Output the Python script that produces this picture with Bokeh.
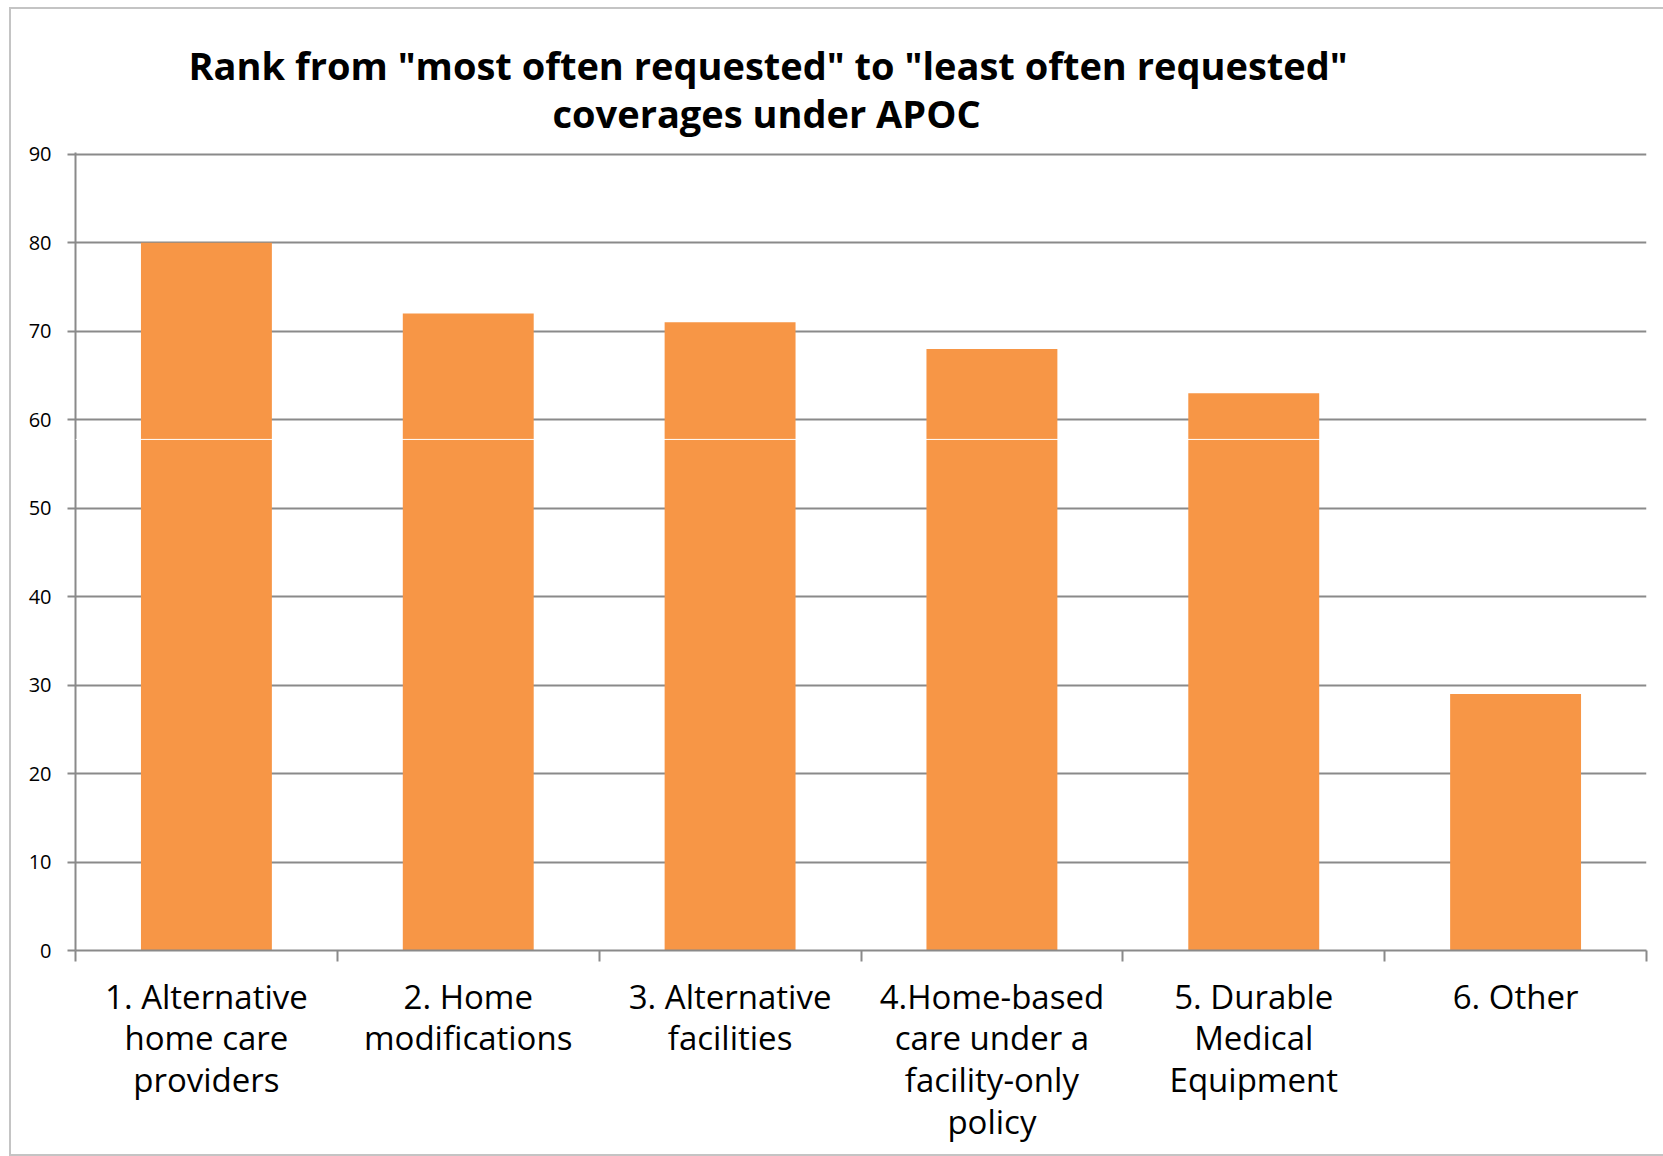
from bokeh.plotting import figure
from bokeh.models import FixedTicker, Range1d, Span, ColumnDataSource, Title
from bokeh.embed import file_html
from bokeh.resources import INLINE

categories = [
    "1. Alternative\nhome care\nproviders",
    "2. Home\nmodifications",
    "3. Alternative\nfacilities",
    "4.Home-based\ncare under a\nfacility-only\npolicy",
    "5. Durable\nMedical\nEquipment",
    "6. Other",
]
values = [80, 72, 71, 68, 63, 29]
y_ticks = [0, 10, 20, 30, 40, 50, 60, 70, 80, 90]
title_lines = [
    'Rank from "most often requested" to "least often requested"',
    "coverages under APOC",
]

n = len(categories)
xpos = [i + 0.5 for i in range(n)]
bounds = [float(i) for i in range(n + 1)]
src = ColumnDataSource(dict(x=xpos, top=values))

GRID = "#8A8A8A"
FONT = "Open Sans"
TFONT = "Open Sans"

p = figure(
    frame_width=1571, frame_height=798,
    x_range=Range1d(0, n), y_range=Range1d(y_ticks[0], y_ticks[-1] + 0.2),
    output_backend="svg", toolbar_location=None,
    min_border_left=64, min_border_right=17, min_border_top=143, min_border_bottom=204,
)
p.styles = {"position": "absolute", "left": "11px", "top": "9px",
            "outline": "2px solid #C4C4C4"}
p.outline_line_color = None
p.background_fill_color = "white"
p.border_fill_color = "white"
p.title.visible = False

p.vbar(x="x", top="top", width=0.5, bottom=0, source=src,
       fill_color="#F79646", line_color=None)

p.xgrid.visible = False
p.ygrid.ticker = FixedTicker(ticks=y_ticks)
p.ygrid.grid_line_color = GRID
p.ygrid.grid_line_width = 2

ya = p.yaxis[0]
ya.ticker = FixedTicker(ticks=y_ticks)
ya.axis_line_color = GRID
ya.axis_line_width = 2
ya.major_tick_line_color = GRID
ya.major_tick_line_width = 2
ya.major_tick_out = 8
ya.major_tick_in = 0
ya.minor_tick_line_color = None
ya.major_label_standoff = 16
ya.major_label_text_font = FONT
ya.major_label_text_font_size = "20px"
ya.major_label_text_color = "black"

xa = p.xaxis[0]
xa.ticker = FixedTicker(ticks=xpos, minor_ticks=bounds)
xa.major_label_overrides = {x: c for x, c in zip(xpos, categories)}
xa.axis_line_color = GRID
xa.axis_line_width = 2
xa.major_tick_line_color = None
xa.major_tick_out = 0
xa.major_tick_in = 0
xa.minor_tick_line_color = GRID
xa.minor_tick_line_width = 2
xa.minor_tick_out = 11
xa.minor_tick_in = 0
xa.major_label_standoff = 12
xa.major_label_text_font = FONT
xa.major_label_text_font_size = "33px"
xa.major_label_text_line_height = 0.93
xa.major_label_text_color = "black"
xa.major_label_orientation = "horizontal"

p.add_layout(Span(location=57.77, dimension="width", line_color="white", line_width=1))

p.add_layout(Title(text=title_lines[1], align="left", offset=477,
                   text_font=TFONT, text_font_style="bold", text_font_size="38px",
                   text_color="black", standoff=28), "above")
p.add_layout(Title(text=title_lines[0], align="left", offset=113,
                   text_font=TFONT, text_font_style="bold", text_font_size="38px",
                   text_color="black", standoff=-41), "above")

open("out.html", "w").write(file_html(p, INLINE))
